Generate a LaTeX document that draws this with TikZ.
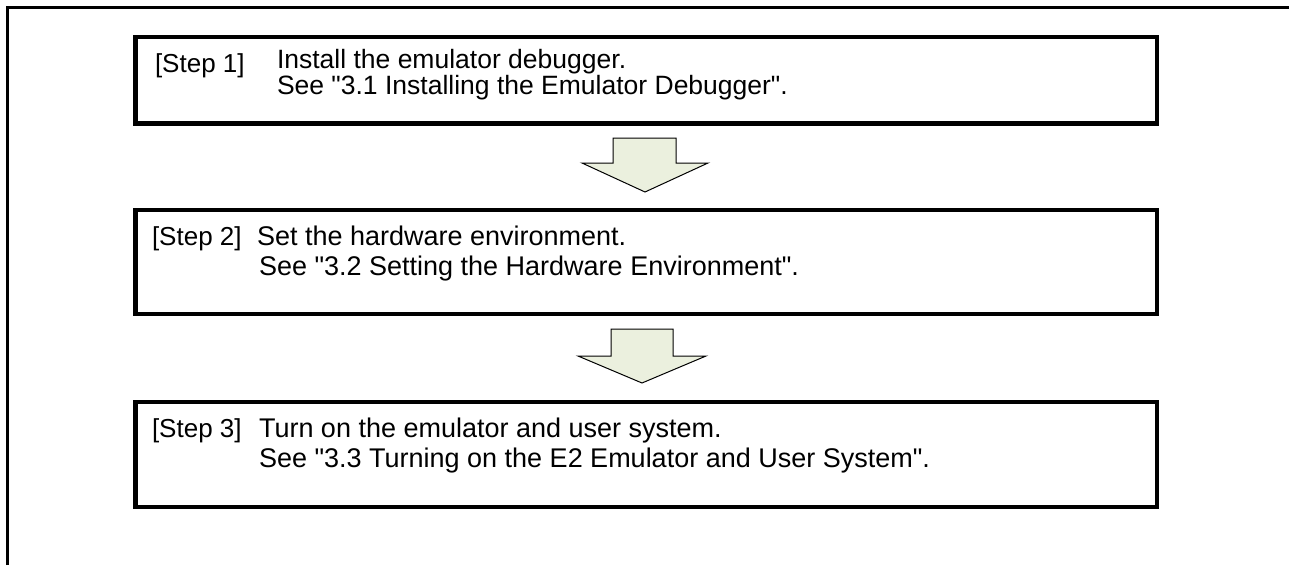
\documentclass[tikz,border=0pt]{standalone}
\usepackage{fontspec}
\newfontfamily\stepfont{Liberation Sans}
\definecolor{arrowfill}{HTML}{EBF0DE}
\begin{document}
\begin{tikzpicture}[x=1pt,y=-1pt,
  stepbox/.style={draw=black,line width=4.5pt,minimum width=1021.5pt,inner sep=0pt,outer sep=0pt},
  steptext/.style={anchor=base west,inner sep=0pt,outer sep=0pt,font=\stepfont\fontsize{27}{30}\selectfont},
  smalltext/.style={steptext,align=left,font=\stepfont\fontsize{26.5}{22}\selectfont},
  steplabel/.style={steptext,font=\stepfont\fontsize{26}{30}\selectfont},
  blockarrow/.style={draw=black,line width=1pt,fill=arrowfill,line join=miter}]
\useasboundingbox (0,0) rectangle (1289,565);
% outer frame
\draw[line width=3pt] (7.5,565) -- (7.5,7.5) -- (1289,7.5);
% boxes
\node[stepbox,minimum height=86.5pt] (b1) at (646.25,80.25) {};
\node[stepbox,minimum height=104pt] (b2) at (646.25,262) {};
\node[stepbox,minimum height=105pt] (b3) at (646.25,454.5) {};
% texts
\node[steplabel] (s1) at (155,72) {[Step 1]};
\node[smalltext] (t1) at (277,94) {Install the emulator debugger.\\See "3.1 Installing the Emulator Debugger".};
\node[steplabel] (s2) at (152,245) {[Step 2]};
\node[steptext] (t2a) at (257,245) {Set the hardware environment.};
\node[steptext] (t2b) at (259,275) {See "3.2 Setting the Hardware Environment".};
\node[steplabel] (s3) at (152,437) {[Step 3]};
\node[steptext] (t3a) at (259,437) {Turn on the emulator and user system.};
\node[steptext] (t3b) at (259,467) {See "3.3 Turning on the E2 Emulator and User System".};
% block arrows
\draw[blockarrow] (613,138) -- (676,138) -- (676,163) -- (708,163) -- (645,192) -- (582,163) -- (613,163) -- cycle;
\draw[blockarrow] (611,329) -- (673,329) -- (673,356) -- (706,356) -- (642,383) -- (578,356) -- (611,356) -- cycle;
\end{tikzpicture}
\end{document}
